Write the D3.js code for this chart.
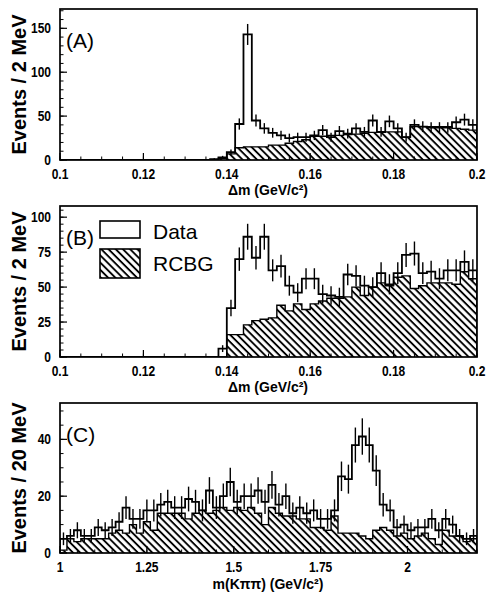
<!DOCTYPE html>
<html>
<head>
<meta charset="utf-8">
<script src="https://cdn.jsdelivr.net/npm/d3@7"></script>
<style>
body { margin: 0; background: #fff; }
svg { font-family: "Liberation Sans", Arial, Helvetica, sans-serif; }
</style>
</head>
<body>
<div id="chart"></div>
<script>
// delta m histograms, 2 MeV bins from 0.1 to 0.2
var dmRange = [0.1, 0.2], dmBin = 0.002;
var dataA = [0,0,0,0,0,0,0,0,0,0, 0,0,0,0,0,0,0,0,1,3,
             9,41,143,45,36,31,28,25,26,26, 28,34,26,33,30,36,32,45,32,44,
             36,26,40,38,37,37,37,43,46,40];
var bgA   = [0,0,0,0,0,0,0,0,0,0, 0,0,0,0,0,0,0,0,0,2,
             7,14,15,15,15,17,17,19,21,23, 27,27,28,28,29,29.5,30.5,31.5,31.5,32,
             32,26,38,38,38,38,38,36,35,34];
var dataB = [0,0,0,0,0,0,0,0,0,0, 0,0,0,0,0,0,0,0,0,6,
             35,70,86,71,86,62,65,51,46,56, 56,45,44,43,59,58,51,50,60,52,
             60,73,74,60,61,56,62,62,68,62];
var bgB   = [0,0,0,0,0,0,0,0,0,0, 0,0,0,0,0,0,0,0,0,0,
             16,16,23,26,27,28,37,33,38,34, 38,40,42,42,43,50,44,50,53,51,
             57,58,49,51,53,53,53,52,61,56];

// m(K pi pi) histogram, 20 MeV bins from 1.0 to 2.2
var mRange = [1.0, 2.2], mBin = 0.02;
var dataC = [5,6,8,6,6,9,8,9,11,16, 12,12,15,15,17,18,16,16,19,18,
             15,22,16,20,25,18,20,20,22,18, 24,17,20,14,16,14,15,12,12,15,
             27,26,38,41,38,29,17,15,9,10, 8,9,9,12,8,12,10,6,5,6];
var bgC   = [1,5,4,5,5,5,5,7,8,7, 10,7,11,8,14,14,14,14,12,14,
             15,14,15,16,15,16,15,16,14,10, 16,14,13,13,12,12,9,9,8,13,
             7,7,7,6,5,8,9,8,6,7, 5,6,7,5,3,8,6,6,4,5];

var dmTicks = [0.1, 0.12, 0.14, 0.16, 0.18, 0.2];
var mTicks = [1, 1.25, 1.5, 1.75, 2];
var yTicksA = [0, 50, 100, 150];
var yTicksB = [0, 25, 50, 75, 100];
var yTicksC = [0, 20, 40];
var legendLabels = ["Data", "RCBG"];

var W = 486, H = 594;
var left = 60, right = 477;

var svg = d3.select("#chart").append("svg")
  .attr("width", W)
  .attr("height", H);

// hatch for the background histogram
svg.append("defs").append("pattern")
  .attr("id", "hatch")
  .attr("patternUnits", "userSpaceOnUse")
  .attr("width", 5.1)
  .attr("height", 5.1)
  .attr("patternTransform", "rotate(-45)")
  .append("line")
  .attr("x1", 2.5).attr("y1", -1)
  .attr("x2", 2.5).attr("y2", 7)
  .attr("stroke", "#000")
  .attr("stroke-width", 1.9);

var panels = [
  {top: 9, bottom: 160, ymax: 172, range: dmRange, bin: dmBin, data: dataA, bg: bgA,
   xticks: dmTicks, xminor: 0.005, yticks: yTicksA, yminor: 10, titleDy: 35,
   ytitle: "Events / 2 MeV", xtitle: "\u0394m (GeV/c\u00b2)", label: "(A)"},
  {top: 206, bottom: 357, ymax: 108, range: dmRange, bin: dmBin, data: dataB, bg: bgB,
   xticks: dmTicks, xminor: 0.005, yticks: yTicksB, yminor: 5, titleDy: 35,
   ytitle: "Events / 2 MeV", xtitle: "\u0394m (GeV/c\u00b2)", label: "(B)", legend: true},
  {top: 403, bottom: 553, ymax: 52.8, range: mRange, bin: mBin, data: dataC, bg: bgC,
   xticks: mTicks, xminor: 0.05, yticks: yTicksC, yminor: 5, titleDy: 36,
   ytitle: "Events / 20 MeV", xtitle: "m(K\u03c0\u03c0) (GeV/c\u00b2)", label: "(C)"}
];

panels.forEach(function(p, k) {
  var x = d3.scaleLinear().domain(p.range).range([left, right]);
  var y = d3.scaleLinear().domain([0, p.ymax]).range([p.bottom, p.top]);

  var g = svg.append("g");
  var clipId = "clip" + k;
  g.append("clipPath").attr("id", clipId)
    .append("rect")
    .attr("x", left).attr("y", p.top)
    .attr("width", right - left).attr("height", p.bottom - p.top);

  // [lower edge, value] per bin, plus the last edge
  function bins(vals) {
    var pts = vals.map(function(v, i) { return [p.range[0] + i * p.bin, v]; });
    pts.push([p.range[0] + vals.length * p.bin, vals[vals.length - 1]]);
    return pts;
  }

  var plot = g.append("g").attr("clip-path", "url(#" + clipId + ")");

  var area = d3.area()
    .curve(d3.curveStepAfter)
    .x(function(d) { return x(d[0]); })
    .y0(y(0))
    .y1(function(d) { return y(d[1]); });
  var line = d3.line()
    .curve(d3.curveStepAfter)
    .x(function(d) { return x(d[0]); })
    .y(function(d) { return y(d[1]); });

  plot.append("path")
    .attr("d", area(bins(p.bg)))
    .attr("fill", "url(#hatch)");
  plot.append("path")
    .attr("d", line(bins(p.bg)))
    .attr("fill", "none")
    .attr("stroke", "#000")
    .attr("stroke-width", 1.4);

  // data outline, closed down to zero at both ends
  var dline = "M" + x(p.range[0]) + "," + y(0) + line(bins(p.data)).replace(/^M/, "L") +
              "L" + x(p.range[1]) + "," + y(0);
  plot.append("path")
    .attr("d", dline)
    .attr("fill", "none")
    .attr("stroke", "#000")
    .attr("stroke-width", 1.8);

  // error bars sqrt(N)
  plot.selectAll("line.err")
    .data(p.data.map(function(v, i) { return {c: p.range[0] + (i + 0.5) * p.bin, v: v}; })
      .filter(function(d) { return d.v > 0; }))
    .enter().append("line")
    .attr("class", "err")
    .attr("x1", function(d) { return x(d.c); })
    .attr("x2", function(d) { return x(d.c); })
    .attr("y1", function(d) { return y(d.v - Math.sqrt(d.v)); })
    .attr("y2", function(d) { return y(d.v + Math.sqrt(d.v)); })
    .attr("stroke", "#000")
    .attr("stroke-width", 1.4);

  // frame
  g.append("rect")
    .attr("x", left).attr("y", p.top)
    .attr("width", right - left).attr("height", p.bottom - p.top)
    .attr("fill", "none")
    .attr("stroke", "#000")
    .attr("stroke-width", 1.7);

  // inside ticks, x
  var xmin = d3.range(p.range[0], p.range[1] + 1e-9, p.xminor);
  g.selectAll("line.xmin").data(xmin).enter().append("line")
    .attr("x1", function(d) { return x(d); }).attr("x2", function(d) { return x(d); })
    .attr("y1", p.bottom).attr("y2", p.bottom - 3.5)
    .attr("stroke", "#000").attr("stroke-width", 1);
  g.selectAll("line.xmaj").data(p.xticks).enter().append("line")
    .attr("x1", function(d) { return x(d); }).attr("x2", function(d) { return x(d); })
    .attr("y1", p.bottom).attr("y2", p.bottom - 7)
    .attr("stroke", "#000").attr("stroke-width", 1.2);
  // tick labels are a narrow bold face in the original
  g.selectAll("text.xl").data(p.xticks).enter().append("text")
    .attr("transform", function(d) {
      return "translate(" + x(d) + "," + (p.bottom + 18.5) + ") scale(0.8,1)";
    })
    .attr("text-anchor", "middle")
    .attr("font-size", 15)
    .attr("font-weight", "bold")
    .text(function(d) { return String(d); });

  // inside ticks, y
  var ymin = d3.range(0, p.ymax, p.yminor);
  g.selectAll("line.ymin").data(ymin).enter().append("line")
    .attr("x1", left).attr("x2", left + 3.5)
    .attr("y1", function(d) { return y(d); }).attr("y2", function(d) { return y(d); })
    .attr("stroke", "#000").attr("stroke-width", 1);
  g.selectAll("line.ymaj").data(p.yticks).enter().append("line")
    .attr("x1", left).attr("x2", left + 7)
    .attr("y1", function(d) { return y(d); }).attr("y2", function(d) { return y(d); })
    .attr("stroke", "#000").attr("stroke-width", 1.2);
  g.selectAll("text.yl").data(p.yticks).enter().append("text")
    .attr("transform", function(d) {
      return "translate(" + (left - 9) + "," + (y(d) + 4.5) + ") scale(0.8,1)";
    })
    .attr("text-anchor", "end")
    .attr("font-size", 15)
    .attr("font-weight", "bold")
    .text(function(d) { return d; });

  // axis titles
  g.append("text")
    .attr("transform", "translate(26," + ((p.top + p.bottom) / 2) + ") rotate(-90)")
    .attr("text-anchor", "middle")
    .attr("font-size", 20)
    .attr("font-weight", "bold")
    .text(p.ytitle);

  g.append("text")
    .attr("x", 268)
    .attr("y", p.bottom + p.titleDy)
    .attr("text-anchor", "middle")
    .attr("font-size", 14)
    .attr("font-weight", "bold")
    .text(p.xtitle);

  g.append("text")
    .attr("x", 66)
    .attr("y", p.top + 39)
    .attr("font-size", 21)
    .text(p.label);

  if (p.legend) {
    var boxes = [{y: 221, h: 17, fill: "#fff"}, {y: 249, h: 29, fill: "url(#hatch)"}];
    g.selectAll("rect.leg").data(boxes).enter().append("rect")
      .attr("x", 100).attr("y", function(d) { return d.y; })
      .attr("width", 40).attr("height", function(d) { return d.h; })
      .attr("fill", function(d) { return d.fill; })
      .attr("stroke", "#000").attr("stroke-width", 1.6);
    g.selectAll("text.leg").data(legendLabels).enter().append("text")
      .attr("x", 153)
      .attr("y", function(d, i) { return i === 0 ? 239 : 271; })
      .attr("font-size", 21)
      .text(function(d) { return d; });
  }
});
</script>
</body>
</html>
